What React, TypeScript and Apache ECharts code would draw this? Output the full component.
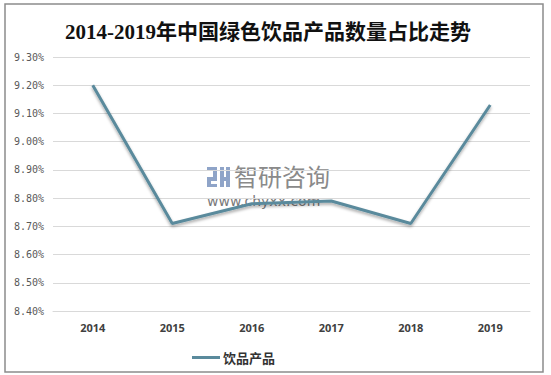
import React, { useEffect, useRef } from "react";
import * as echarts from "echarts";

const categories = ["2014", "2015", "2016", "2017", "2018", "2019"];
const seriesName = "饮品产品";
const values = [9.2, 8.71, 8.78, 8.79, 8.71, 9.13];
const yMin = 8.4;
const yMax = 9.3;
const yStep = 0.1;

export default function App() {
  const ref = useRef<HTMLDivElement>(null);
  useEffect(() => {
    if (!ref.current) return;
    const chart = echarts.init(ref.current, null, { renderer: "svg" });
    chart.setOption({
      animation: false,
      backgroundColor: "#ffffff",
      title: {
        text: "2014-2019年中国绿色饮品产品数量占比走势",
        left: 60,
        top: 16,
        textStyle: {
          fontFamily: "'Liberation Serif', 'Noto Sans CJK SC', serif",
          fontSize: 21,
          fontWeight: "bold",
          color: "#111",
        },
      },
      grid: { left: 53, right: 21, top: 57, bottom: 64, containLabel: false },
      legend: {
        left: 187,
        top: 346,
        itemWidth: 28,
        itemHeight: 3,
        itemGap: 4,
        icon: "rect",
        textStyle: {
          fontFamily: "'Noto Sans CJK SC', sans-serif",
          fontSize: 13,
          fontWeight: "bold",
          color: "#333",
          padding: [0, 0, 0, -2],
        },
        data: [seriesName],
      },
      xAxis: {
        type: "category",
        data: categories,
        boundaryGap: true,
        axisLine: { lineStyle: { color: "#d9d9d9" } },
        axisTick: { show: false },
        axisLabel: {
          margin: 11,
          fontFamily: "'Open Sans', 'Noto Sans', sans-serif",
          fontSize: 11,
          fontWeight: "bold",
          color: "#404040",
        },
      },
      yAxis: {
        type: "value",
        min: yMin,
        max: yMax,
        interval: yStep,
        axisLine: { show: false },
        axisTick: { show: false },
        splitLine: { lineStyle: { color: "#d9d9d9" } },
        axisLabel: {
          margin: 9,
          fontFamily: "'DejaVu Sans Mono', monospace",
          fontSize: 10,
          color: "#595959",
          formatter: (v: number) => v.toFixed(2) + "%",
        },
      },
      series: [
        {
          name: seriesName,
          type: "line",
          data: values,
          symbol: "none",
          lineStyle: {
            color: "#5a8a9c",
            width: 3,
            shadowColor: "rgba(0,0,0,0.35)",
            shadowBlur: 3,
            shadowOffsetY: 2,
          },
          itemStyle: { color: "#5a8a9c" },
          z: 2,
        },
      ],
      graphic: [
        {
          type: "rect",
          shape: { x: 5, y: 4, width: 538, height: 368 },
          style: { fill: "none", stroke: "#8c8c8c", lineWidth: 1.5 },
          silent: true,
          z: 10,
        },
        {
          type: "group",
          z: 5,
          silent: true,
          children: [
            { type: "rect", shape: { x: 207, y: 167, width: 10, height: 4 }, style: { fill: "#8fa4c8" } },
            { type: "rect", shape: { x: 213, y: 167, width: 4, height: 10 }, style: { fill: "#8fa4c8" } },
            { type: "rect", shape: { x: 207, y: 177, width: 10, height: 4 }, style: { fill: "#8fa4c8" } },
            { type: "rect", shape: { x: 207, y: 177, width: 4, height: 10 }, style: { fill: "#8fa4c8" } },
            { type: "rect", shape: { x: 207, y: 184, width: 10, height: 3 }, style: { fill: "#8fa4c8" } },
            { type: "rect", shape: { x: 220, y: 167, width: 4, height: 20 }, style: { fill: "#8fa4c8" } },
            { type: "rect", shape: { x: 224, y: 177, width: 6, height: 4 }, style: { fill: "#8fa4c8" } },
            { type: "rect", shape: { x: 226, y: 167, width: 4, height: 20 }, style: { fill: "#8fa4c8" } },
            {
              type: "text",
              x: 234,
              y: 163,
              style: {
                text: "智研咨询",
                font: "24px 'Noto Sans CJK SC', sans-serif",
                fill: "#8a8a8a",
              },
            },
            {
              type: "text",
              x: 207,
              y: 194,
              style: {
                text: "www.chyxx.com",
                font: "14px 'DejaVu Sans', sans-serif",
                fill: "#7a7a7a",
                letterSpacing: 0.8,
              },
            },
          ],
        },
      ],
    });
    return () => chart.dispose();
  }, []);
  return (
    <div
      ref={ref}
      style={{ position: "absolute", left: 0, top: 0, width: 551, height: 375 }}
    />
  );
}
